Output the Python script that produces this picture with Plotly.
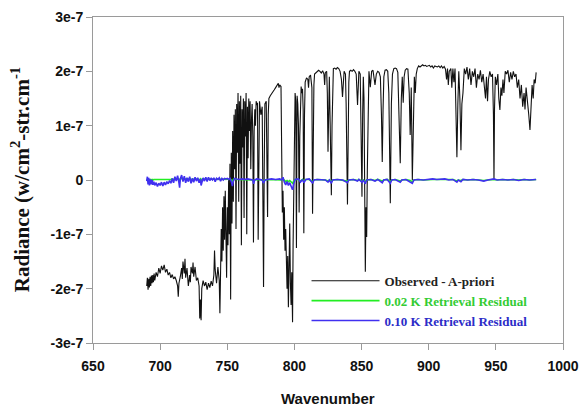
import plotly.graph_objects as go

# ---- Observed - A-priori (wavenumber, radiance in units of 1e-7) ----
obs_wn = [
    690, 690.5, 691, 691.5, 692, 692.5, 693, 693.5, 694, 694.5, 695, 695.5, 696, 697, 698, 699, 700,
    701, 702, 703, 704, 705, 706, 707, 708, 709, 710, 711, 712, 713, 713.5, 714, 715, 716, 716.5,
    717, 718, 718.5, 719, 720, 721, 722, 722.5, 723, 724, 724.5, 725, 726, 727, 728, 729, 729.5,
    730, 730.5, 731, 732, 733, 734, 735, 736, 737, 738, 739, 740, 740.5, 741, 742, 743, 744, 744.5,
    745, 745.5, 746, 746.5, 747, 747.5, 748, 748.5, 749, 749.5, 750, 750.5, 751, 751.5, 752, 752.5,
    753, 753.5, 754, 754.5, 755, 755.5, 756, 756.5, 757, 757.5, 758, 758.5, 759, 759.5, 760, 760.5,
    761, 761.5, 762, 762.5, 763, 763.5, 764, 764.5, 765, 765.5, 766, 766.5, 767, 767.5, 768, 768.5,
    769, 769.5, 770, 770.5, 771, 771.5, 772, 772.5, 773, 773.5, 774, 775, 776, 776.5, 777, 777.5,
    778, 779, 779.5, 780, 780.5, 781, 782, 783, 784, 785, 786, 787, 788, 788.5, 789, 790, 790.5,
    791, 791.5, 792, 792.5, 793, 793.5, 794, 794.5, 795, 795.5, 796, 796.5, 797, 797.5, 798, 798.6,
    799, 799.5, 800, 800.5, 801, 801.5, 802, 802.5, 803, 803.5, 804, 804.5, 805, 805.5, 806, 806.5,
    807, 807.5, 808, 809, 810, 810.5, 811, 812, 813, 813.5, 814, 814.5, 815, 816, 817, 818, 819,
    820, 821, 822, 822.5, 823, 824, 824.5, 825, 825.5, 826, 826.5, 827.5, 828, 828.5, 829, 830,
    831, 832, 833, 834, 835, 835.8, 836.5, 837, 838, 838.5, 839.5, 840, 840.5, 841, 842, 843, 844,
    845, 846, 847, 847.5, 848, 849, 849.5, 850.3, 850.8, 851.3, 851.8, 852.3, 852.8, 853.3, 853.8,
    854.3, 854.8, 855.5, 856.5, 857.5, 858.5, 859.5, 860, 861, 862, 863, 864, 864.8, 865.4, 866,
    866.6, 867.5, 868.5, 869.5, 870.3, 871.4, 872.2, 873, 874, 875, 876, 877, 877.8, 878.8, 879.6,
    880.3, 881, 881.7, 882.5, 883.5, 884.5, 885.5, 886.2, 887, 887.8, 888.6, 889.3, 890, 890.7,
    891.5, 892.5, 893.5, 894.5, 895.5, 896.5, 897.5, 898.5, 899.5, 900.5, 901.5, 902.5, 903.5,
    904.5, 905.5, 906.5, 907.5, 908.5, 909.5, 910.5, 911.5, 912.5, 913.3, 914, 914.6, 915.3, 916.5,
    917.2, 918, 918.8, 919.6, 920.3, 921, 921.7, 922.4, 923.2, 924, 924.7, 925.5, 926.5, 927.5,
    928.5, 929.5, 930.5, 931.5, 932.5, 933.5, 934.5, 935.5, 936.5, 937.5, 938.5, 939.5, 940.5,
    941.5, 942.3, 943, 943.8, 944.5, 945.5, 946.5, 947.5, 948.2, 948.6, 949, 949.6, 950.5, 951.5,
    952.2, 953, 953.8, 954.5, 955.3, 956, 957, 958, 959, 960, 961, 962, 963, 964, 965, 966, 967,
    968, 969, 970, 971, 971.7, 972.5, 973.5, 974.5, 975.4, 976.2, 977, 977.8, 978.5, 979.3, 980,
]
obs_val = [
    -1.95, -1.80, -2.02, -1.82, -1.98, -1.78, -1.95, -1.76, -1.90, -1.75, -1.88, -1.72, -1.85, -1.70, -1.78, -1.62, -1.72,
    -1.58, -1.66, -1.56, -1.70, -1.64, -1.75, -1.70, -1.80, -1.74, -1.82, -1.78, -1.85, -1.95, -2.15, -1.90, -1.78, -1.62, -1.82,
    -1.50, -1.72, -1.45, -1.80, -1.62, -1.95, -1.75, -1.88, -1.60, -1.72, -1.52, -1.78, -1.60, -1.85, -1.80, -1.95, -2.55,
    -2.20, -2.58, -2.00, -1.85, -1.95, -1.88, -2.02, -1.90, -1.98, -1.86, -1.95, -1.75, -1.30, -1.65, -1.90, -1.60, -1.85, -2.45,
    -1.70, -0.90, -1.50, -0.50, -1.30, -0.30, -1.10, -0.20, -1.00, -1.80, -0.50, -1.20, 0.00, -1.00, 0.30, -2.20,
    0.50, -0.80, 0.90, -0.40, 1.20, 0.20, 1.30, -0.90, 1.40, 0.50, 1.60, -0.40, 1.45, 0.30, 1.55, -1.20,
    1.30, 0.60, 1.50, -0.70, 1.45, 0.80, 1.60, -1.00, 1.35, 0.40, 1.50, 0.90, 1.45, 0.20, 1.10, 1.40,
    0.80, -1.15, 0.90, 1.30, 1.00, 1.45, 1.38, 1.42, -1.10, 1.30, 1.45, 1.20, 1.35, -0.30, -1.97, 0.20,
    1.40, 1.45, 0.50, -0.68, 1.20, 1.50, 1.55, 1.58, 1.62, 1.66, 1.70, 1.74, 1.78, 1.70, 1.75, 1.72, 0.80,
    -0.60, -0.20, -1.10, -0.50, -1.30, -0.90, -1.50, -2.00, -1.40, -2.34, -1.60, -0.80, -1.90, -2.30, -1.70, -2.62,
    -1.20, 0.20, 1.50, 1.60, 1.45, -1.25, 1.55, 1.40, 1.00, -0.60, 0.80, 1.65, 1.72, 1.60, 1.68, 1.30,
    -0.98, 1.20, 1.80, 1.88, 1.85, 1.70, 1.90, 1.93, 1.70, -0.62, 0.80, 1.75, 1.95, 1.98, 2.00, 2.02, 2.00,
    1.97, 2.01, 1.95, 1.75, 1.98, 2.00, 1.60, 0.52, 1.80, 1.90, 1.20, -0.28, 1.00, 1.90, 2.05, 2.06,
    2.04, 2.07, 2.05, 2.00, 1.85, 1.53, 1.90, 2.00, 1.95, 1.40, -0.45, 1.00, 1.80, 2.00, 2.02, 2.00, 2.03,
    2.00, 1.95, 1.38, 1.90, 2.00, 1.95, 1.30, -0.31, 1.20, 1.90, 1.50, -0.90, -1.69, -0.50, -1.05,
    0.20, 1.60, 2.00, 1.71, 2.00, 2.02, 1.85, 1.75, 1.95, 2.00, 1.98, 1.90, 1.20, 0.33, 1.30,
    1.90, 2.02, 2.03, 2.00, 1.60, -0.43, 1.40, 1.95, 2.05, 2.06, 2.05, 1.98, 1.30, 0.31, 1.50,
    1.90, 1.42, 1.90, 2.02, 2.05, 2.04, 1.60, 0.83, 1.70, 0.00, 1.50, 1.90, 1.60, 1.95,
    2.05, 2.10, 2.08, 2.10, 2.12, 2.10, 2.11, 2.09, 2.10, 2.11, 2.08, 2.10, 2.06,
    2.10, 2.09, 2.08, 2.10, 2.07, 2.10, 2.06, 2.09, 2.04, 1.85, 2.05, 1.75, 2.00, 2.05,
    1.70, 2.05, 1.80, 2.05, 1.30, 0.42, 1.40, 2.00, 1.50, 0.55, 1.40, 1.60, 2.05, 1.95,
    2.08, 1.85, 2.05, 1.75, 2.00, 1.90, 2.05, 1.70, 1.95, 1.85, 2.02, 1.80, 1.95,
    1.65, 1.50, 1.90, 1.45, 1.85, 2.00, 1.90, 1.95, 1.20, 0.00, 1.30, 1.90, 1.75, 1.95,
    1.50, 1.29, 1.70, 1.55, 1.85, 1.60, 2.00, 1.95, 2.02, 1.80, 1.98, 1.85, 2.00, 1.90, 1.95, 1.70, 1.85,
    1.50, 1.75, 1.35, 1.60, 1.30, 1.70, 1.50, 1.20, 0.92, 1.40, 1.75, 1.50, 1.85, 1.78, 1.98,
]

# ---- Retrieval residuals (wavenumber, radiance in units of 1e-7) ----
res_wn = [
    690, 690.5, 691, 691.5, 692, 692.7, 693.3, 694, 694.6, 695.3, 696, 697, 698, 699, 700, 701, 702,
    703, 704, 705, 706, 707, 708, 709, 710, 711, 712, 713, 714, 714.5, 715, 716, 717, 718, 719, 720,
    721, 722, 723, 724, 725, 726, 727, 728, 729, 730, 730.5, 731, 732, 733, 734, 735, 736, 737, 738,
    739, 740, 741, 742, 743, 744, 745, 746, 747, 748, 749, 750, 751, 752, 753, 753.8, 754.5, 755.5,
    757, 759, 761, 763, 765, 767, 769, 769.6, 770.3, 772, 774, 776, 777, 778, 780, 783, 786, 789,
    790.5, 791.5, 792.5, 793.5, 794.5, 795.5, 796.5, 797.5, 798.6, 799.5, 800.5, 803, 804.5, 806,
    807, 808.5, 811, 813.6, 814.5, 817, 820, 823, 825, 826, 827.5, 828.5, 832, 836, 839.5, 840.5,
    844, 847, 848, 850.3, 851.3, 852.8, 853.8, 857, 860, 862, 865.4, 866.5, 869, 871.4, 872.5, 875,
    878.8, 880, 883, 886.2, 887.8, 889, 892, 896, 900, 903, 906, 909, 912, 915, 918, 921, 922, 924,
    925.5, 929, 933, 937, 941, 944, 948.6, 951, 955, 959, 963, 967, 971, 975, 980,
]
res_010K = [
    -0.02, 0.06, -0.08, 0.04, -0.10, 0.01, -0.08, 0.00, -0.09, -0.03, -0.10, -0.05, -0.12, -0.06, -0.10, -0.04, -0.11,
    -0.04, -0.09, -0.03, -0.07, -0.01, -0.06, 0.03, -0.05, 0.06, -0.02, 0.08, -0.05, -0.14, 0.02, 0.09, -0.03, 0.07, -0.05, 0.04,
    -0.03, 0.06, -0.06, 0.03, -0.04, 0.05, -0.02, 0.04, -0.05, 0.02, -0.10, -0.03, 0.04, -0.02, 0.05, -0.03, 0.05, -0.01, 0.03,
    0.00, 0.04, -0.03, 0.03, 0.01, 0.04, -0.02, 0.03, 0.00, 0.03, 0.02, 0.03, 0.01, 0.03, -0.03, -0.11, -0.02, 0.03,
    0.02, 0.01, 0.02, 0.01, 0.02, 0.01, 0.00, -0.07, 0.00, 0.02, 0.01, 0.00, -0.06, 0.00, 0.01, 0.02, 0.01, 0.02,
    0.00, 0.05, -0.04, -0.09, -0.03, -0.10, -0.05, -0.13, -0.18, -0.06, 0.01, 0.02, -0.04, 0.01,
    -0.05, 0.01, 0.02, -0.06, 0.00, 0.01, 0.01, 0.00, -0.04, 0.00, -0.06, 0.00, 0.01, 0.00, -0.05, 0.00,
    0.01, -0.02, 0.01, -0.04, 0.00, -0.07, 0.00, 0.01, -0.02, 0.01, -0.05, 0.00, 0.01, -0.06, 0.00, 0.01,
    -0.04, 0.00, 0.01, -0.03, -0.06, 0.00, 0.01, 0.00, 0.01, 0.02, 0.01, 0.01, 0.02, 0.00, 0.01, -0.04, 0.00, -0.03,
    0.01, 0.00, 0.01, 0.00, -0.02, 0.00, 0.02, 0.00, 0.01, 0.00, 0.01, -0.01, 0.01, 0.00, 0.01,
]
res_002K = [
    0.02, 0.01, 0.00, 0.01, 0.00, 0.01, 0.00, 0.01, 0.00, 0.01, 0.01, 0.00, 0.01, 0.00, 0.01, 0.00, 0.01,
    0.01, 0.00, 0.01, 0.01, 0.00, 0.01, 0.02, 0.01, 0.02, 0.01, 0.03, 0.01, -0.03, 0.02, 0.03, 0.01, 0.03, 0.01, 0.02,
    0.01, 0.03, 0.00, 0.02, 0.01, 0.02, 0.01, 0.02, 0.00, 0.02, -0.03, 0.01, 0.02, 0.01, 0.02, 0.01, 0.02, 0.01, 0.02,
    0.01, 0.02, 0.00, 0.02, 0.01, 0.02, 0.01, 0.02, 0.01, 0.02, 0.01, 0.02, 0.01, 0.02, 0.00, -0.03, 0.01, 0.02,
    0.01, 0.01, 0.01, 0.01, 0.01, 0.01, 0.00, -0.03, 0.00, 0.01, 0.01, 0.00, -0.03, 0.00, 0.01, 0.01, 0.01, 0.01,
    0.00, 0.02, -0.01, -0.03, -0.01, -0.03, -0.01, -0.04, -0.06, -0.02, 0.01, 0.01, -0.02, 0.01,
    -0.02, 0.01, 0.01, -0.03, 0.00, 0.01, 0.01, 0.00, -0.02, 0.00, -0.03, 0.00, 0.01, 0.00, -0.02, 0.00,
    0.01, -0.01, 0.01, -0.02, 0.00, -0.03, 0.00, 0.01, -0.01, 0.01, -0.02, 0.00, 0.01, -0.03, 0.00, 0.01,
    -0.02, 0.00, 0.01, -0.01, -0.03, 0.00, 0.01, 0.00, 0.01, 0.01, 0.01, 0.01, 0.01, 0.00, 0.01, -0.02, 0.00, -0.01,
    0.01, 0.00, 0.01, 0.00, -0.01, 0.00, 0.01, 0.00, 0.01, 0.00, 0.01, 0.00, 0.01, 0.00, 0.01,
]

x_ticks = [650, 700, 750, 800, 850, 900, 950, 1000]
y_tick_vals = [3e-7, 2e-7, 1e-7, 0, -1e-7, -2e-7, -3e-7]
y_tick_text = ["3e-7", "2e-7", "1e-7", "0", "-1e-7", "-2e-7", "-3e-7"]

series_names = ["Observed - A-priori", "0.02 K Retrieval Residual", "0.10 K Retrieval Residual"]

SCALE = 1e-7
serif = "Liberation Serif, Times New Roman, serif"
sans = "Liberation Sans, Arial, sans-serif"

fig = go.Figure()
fig.add_trace(go.Scatter(
    x=obs_wn, y=[v * SCALE for v in obs_val], mode="lines",
    line=dict(color="#111111", width=1.1), name=f"<b>{series_names[0]}</b>",
    legendrank=1,
))
fig.add_trace(go.Scatter(
    x=res_wn, y=[v * SCALE for v in res_002K], mode="lines",
    line=dict(color="#22ee22", width=1.6), name=f"<b><span style='color:#33cc33'>{series_names[1]}</span></b>",
    legendrank=2,
))
fig.add_trace(go.Scatter(
    x=res_wn, y=[v * SCALE for v in res_010K], mode="lines",
    line=dict(color="#4030f0", width=1.6), name=f"<b><span style='color:#2c2cc8'>{series_names[2]}</span></b>",
    legendrank=3,
))

axis_common = dict(
    showline=True, linecolor="#9a9a9a", linewidth=1, mirror=True,
    ticks="outside", ticklen=6, tickcolor="#9a9a9a", tickwidth=1,
    showgrid=False, zeroline=False,
    tickfont=dict(family=sans, size=14, color="#111111", weight="bold"),
)

fig.update_layout(
    width=580, height=407,
    margin=dict(l=93, r=17, t=17, b=64),
    paper_bgcolor="white", plot_bgcolor="white",
    showlegend=True,
    legend=dict(
        x=0.4543, y=0.237, xanchor="left", yanchor="top",
        bgcolor="rgba(0,0,0,0)", borderwidth=0,
        font=dict(family=serif, size=13, color="#222222"),
        itemwidth=68, tracegroupgap=0,
    ),
    xaxis=dict(range=[650, 1000], tickvals=x_ticks, automargin=False,
               ticklabelstandoff=4, **axis_common),
    yaxis=dict(range=[-3e-7, 3e-7], tickvals=y_tick_vals, ticktext=y_tick_text, automargin=False,
               **axis_common),
    annotations=[
        dict(text="<b>Wavenumber</b>", xref="paper", yref="paper", x=0.5, y=-0.171,
             xanchor="center", yanchor="middle", showarrow=False,
             font=dict(family=sans, size=15, color="#111111")),
        dict(text="<b>Radiance (w/cm<sup>2</sup>-str.cm<sup>-1</sup></b>", xref="paper", yref="paper",
             x=-0.155, y=0.5, xanchor="center", yanchor="middle", textangle=-90, showarrow=False,
             font=dict(family=serif, size=21, color="#111111")),
    ],
)

fig.write_html(
    "out.html",
    config={"displayModeBar": False},
    post_script="document.body.style.margin='0';document.body.style.overflow='hidden';",
)
